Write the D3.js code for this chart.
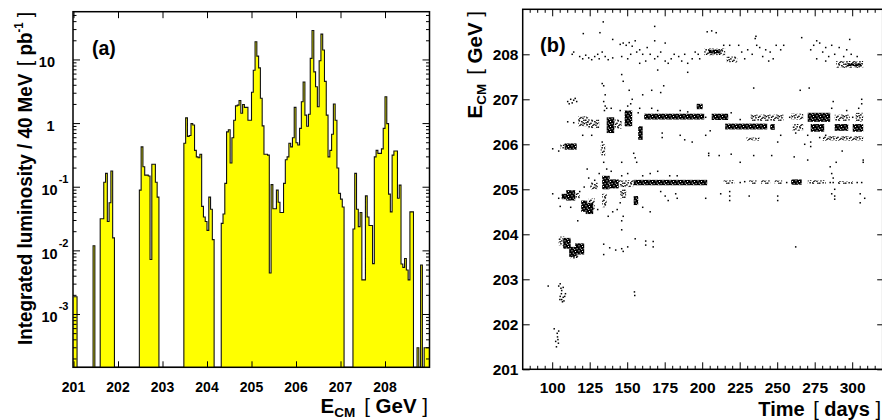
<!DOCTYPE html>
<html><head><meta charset="utf-8">
<script src="https://cdn.jsdelivr.net/npm/d3@7"></script>
<style>
body{margin:0;background:#fff;}
svg{display:block;font-family:"Liberation Sans",Arial,Helvetica,sans-serif;}
</style></head><body>
<svg id="c" width="882" height="420"></svg>
<script>
// ---------------- DATA ----------------
// (a) integrated luminosity per 40 MeV bin, bins start at 201.00 GeV
const binStart = 201.0, binWidth = 0.04;
const lumi = [
 0.0019,0.0019,0,0,0,0,0,0,0,0,
 0,0.012,0,0,0,0.032,0.032,0.12,0.165,0.029,
 0.057,0.18,0.016,0,0,0,0,0,0,0,
 0,0,0,0,0,0,0,0.09,0.43,0.21,
 0.155,0.155,0.15,0.0073,0.23,0.23,0.12,0.07,0,0,
 0,0,0,0,0,0,0,0,0,0,
 0,0,0.49,1.23,0.63,0.65,1.0,0.95,0.38,0.3,
 0.29,0.33,0.05,0.034,0.029,0.021,0.07,0.045,0.015,0,
 0,0,0,0.027,0.038,0.115,0.74,0.8,0.24,0.6,
 1.13,1.9,1.95,2.3,1.45,2.0,1.8,1.8,1.13,1.13,
 3.1,6.9,19.3,11.5,7.5,2.5,0.92,0.33,0.33,0.32,
 0.0045,0.11,0.046,0.046,0.09,0.058,0.04,0.04,0.115,0.27,
 0.3,0.49,0.43,0.6,1.8,0.5,0.46,0.84,2.2,4.5,
 1.36,0.91,1.4,10.6,29,6.5,3.8,1.84,9.7,25.5,
 14.3,4.6,1.36,0.3,0.38,0.68,2.03,1.13,0.2,0.08,
 0.065,0.049,0,0,0,0,0,0.022,0.165,0.045,
 0.024,0.04,0.0035,0.0035,0.073,0.034,0.025,0.025,0.0063,0.3,
 0.38,0.34,0.34,0.4,0.84,2.64,1.0,0.078,0.041,0.32,
 0.37,0.37,0.067,0.108,0.0062,0.0055,0.0076,0.005,0.0035,0.041,
 0.041,0,0,0.0003,0,0.006,0,0.0003,0.0003,0.0003
];
const ecmTicksA = [201,202,203,204,205,206,207,208];
const lumiDecades = [1,0,-1,-2,-3];

// (b) beam energy vs time
const timeTicks = [100,125,150,175,200,225,250,275,300];
const ecmTicksB = [201,202,203,204,205,206,207,208];
// dense groups of fills: [day0, day1, E0, E1, density]
const bands = [
 [104,108,203.75,203.95,'m'],[107,112,203.68,203.92,'d'],[111,116,203.5,203.72,'d'],
 [115,121,203.55,203.8,'d'],[112,117,203.45,203.55,'m'],
 [106,110,204.78,204.9,'d'],[109,115,204.75,204.98,'d'],[114,118,204.8,204.92,'m'],
 [119,123,204.5,204.75,'d'],[122,127,204.45,204.7,'d'],[124,128,204.55,204.8,'m'],
 [125,130,205.0,205.15,'m'],[133,138,205.0,205.3,'d'],[138,144,205.02,205.22,'d'],
 [144,154,205.05,205.2,'m'],[154,203,205.09,205.21,'d'],
 [133,136,204.6,204.9,'m'],[145,149,204.8,205.0,'m'],[154,157,204.65,204.85,'d'],
 [105,109,205.9,206.0,'m'],[108,116,205.88,206.02,'d'],[132,135,205.75,206.0,'m'],
 [117,124,206.4,206.62,'m'],[123,131,206.36,206.55,'m'],[136,141,206.25,206.6,'d'],
 [141,146,206.35,206.55,'m'],[148,153,206.4,206.75,'d'],[157,160,206.1,206.4,'d'],
 [161,201,206.55,206.68,'d'],[196,200,206.78,206.9,'d'],[206,217,206.54,206.68,'d'],
 [232,254,206.52,206.66,'m'],[259,267,206.55,206.68,'m'],[270,285,206.5,206.7,'d'],
 [288,298,206.52,206.66,'m'],[302,307,206.5,206.7,'m'],[215,243,206.33,206.46,'d'],
 [245,248,206.32,206.45,'d'],[260,267,206.3,206.45,'m'],[272,281,206.28,206.45,'d'],
 [288,297,206.3,206.45,'d'],[300,307,206.28,206.45,'d'],[229,238,206.08,206.15,'m'],
 [280,307,206.08,206.18,'m'],
 [201,215,207.98,208.13,'m'],[204,212,208.02,208.1,'d'],[216,223,207.82,207.95,'m'],
 [289,307,207.7,207.85,'m'],[296,306,207.74,207.8,'d'],
 [214,221,205.12,205.2,'m'],[231,236,205.12,205.2,'m'],[239,245,205.12,205.2,'m'],
 [248,253,205.12,205.2,'m'],[259,266,205.1,205.22,'d'],[270,282,205.12,205.2,'m'],
 [290,300,205.12,205.18,'m']
];
// isolated fills: [day, E]
const fills = [
 [101,201.9],[102,201.62],[102.5,201.5],[103,201.8],[103.2,201.72],[103.5,201.66],[104,201.85],[103.8,201.58],
 [97,202.85],[104,202.85],[105,202.9],[105.5,202.8],[106,202.75],[107,202.82],[105,202.62],[106,202.55],
 [106.5,202.5],[107,202.6],[107.5,202.52],[108,202.62],[108.5,202.68],[105.8,202.68],[104.8,202.55],
 [154.5,202.72],[154.7,202.64],
 [116.7,204.3],[134,203.78],[134,203.55],[138,203.7],[142,203.65],[146,204.1],[146,203.68],[147,203.62],
 [150,203.72],[155,203.9],[162,203.85],[162,203.76],[167,203.84],[167,203.72],[262,203.72],[147,204.4],[146,204.3],
 [100,204.9],[104,204.8],[105,204.62],[112,204.6],[118,204.95],[130,204.55],[137,204.4],[140,204.5],
 [143,204.55],[145,204.7],[160,204.6],[165,204.5],[121,205.05],[123,205.45],[131,205.35],[139,205.4],
 [146,205.3],[150,205.35],[160,205.3],[165,205.35],[170,205.4],[178,205.3],[183,205.3],[124,205.25],[128,205.2],
 [100,205.9],[104,205.85],[133,206.05],[134,205.6],[136,205.45],[146,205.6],[154,205.8],[155,205.7],
 [156,205.6],[120,206.2],[126,206.2],[110,206.5],[114,206.48],[139,206.8],[145,206.75],[150,206.85],
 [152,206.9],[157,206.7],[158,206.8],
 [110,206.95],[111,206.9],[112,207.0],[113,206.92],[114,206.98],[115,207.02],[116,206.95],[134,206.95],
 [135,206.85],[134.5,206.75],[136,206.8],[135,207.1],[133,207.35],[134,207.3],[146,207.55],[147,207.4],
 [151,207.2],[153,207.0],[166,207.2],[160,207.1],
 [114,208.05],[113,208.0],[120.4,208.46],[131.5,208.48],[133.7,208.72],[140,208.33],[145,208.22],[147,208.25],
 [149,208.2],[151,208.26],[153,208.18],[155,208.3],[118,207.95],[120,207.9],[122,207.98],[124,207.92],
 [126,207.88],[128,207.95],[130,208.0],[131,207.9],[133,208.05],[135,207.95],[137,207.88],[140,207.92],
 [146,207.95],[150,207.9],[152,208.0],[156,208.05],[158,208.1],[160,208.0],[163,208.15],[162,207.85],[158,207.8],
 [165,208.0],[168,207.9],[170,207.95],[172,208.05],[175,207.85],[177,207.8],[179,207.9],[181,208.0],
 [184,207.95],[186,207.85],[188,208.0],[190,207.8],[193,207.9],[195,208.05],[197,208.0],[175,208.25],
 [168,208.3],[170,207.65],[190,207.6],[198,207.9],[168,208.62],[203,208.5],[206,208.52],[209,208.48],
 [235.5,208.4],[235,208.35],[266,208.37],[298,208.33],[224,208.2],[226,208.05],[230,208.1],[233,208.0],
 [236,208.2],[238,208.15],[240,207.95],[242,208.1],[245,208.05],[247,207.9],[249,208.2],[252,208.1],
 [254,208.2],[228,207.9],[244,207.85],[272,208.1],[274,208.2],[276,208.3],[278,208.25],[280,208.05],
 [282,208.15],[284,207.95],[286,208.2],[288,208.0],[291,208.15],[294,207.95],[296,208.1],[299,208.0],
 [303,207.95],[276,207.9],[282,207.85],[218,208.2],[214,208.2],[174,207.3],[172,207.15],[234,207.25],
 [265,207.2],[271,207.25],[306,207.0],[306,206.9],[287,206.95],
 [166,206.8],[170,206.75],[185,206.75],[190,206.72],[202,206.6],[219,206.7],[225,206.55],[258,206.6],
 [286,206.8],[296,206.75],[300,206.6],[304,206.8],[173,206.25],[173,206.15],[185,206.2],[188,206.1],
 [193,206.05],[202,206.2],[205,206.3],[250,206.05],[252,206.2],[278,206.15],[282,206.2],[262,206.25],
 [268,206.0],[272,206.05],[272,205.95],[270,206.2],
 [204,205.8],[204,205.75],[211,205.75],[219,205.78],[225,205.6],[234,205.75],[246,205.75],[261,205.72],
 [270,205.65],[307,205.65],[307,205.6],[293,205.85],
 [285,205.5],[286,205.35],[287,205.15],[288,205.0],[286,204.9],[288,204.85],[289,205.6],[287,205.25],
 [172,204.95],[175,204.85],[177,204.75],[182,204.9],[183,204.8],[202,204.8],[212,204.9],[218,204.95],
 [218,204.85],[218,204.75],[231,204.85],[250,204.85],[250,204.75],[288,204.78],[305,204.9],[308,204.8],
 [305,204.7],[225,205.15],[228,205.17],[256,205.15],[285,205.15],[303,205.15],[306,205.15]
];

// ---------------- DRAWING ----------------
const svg = d3.select('#c');
const defs = svg.append('defs');

// panel (a) geometry
const A = {l:73, r:429.5, t:11.7, b:367.3};
const xa = d3.scaleLinear().domain([201,209]).range([73.5,429.5]);
const ya = d3.scaleLog().domain([1.48e-4,57.3]).range([A.b,A.t]);

defs.append('clipPath').attr('id','clipA').append('rect')
  .attr('x',A.l).attr('y',A.t).attr('width',A.r-A.l).attr('height',A.b-A.t);

const histData = lumi.map((v,i)=>({e:binStart+i*binWidth, v}));
histData.push({e:binStart+lumi.length*binWidth, v:0});
const yv = d=> d.v>0 ? ya(d.v) : A.b;
const gA = svg.append('g').attr('clip-path','url(#clipA)');
gA.append('path').datum(histData)
  .attr('d', d3.area().x(d=>xa(d.e)).y0(A.b).y1(yv).curve(d3.curveStepAfter))
  .attr('fill','#ffff00');
gA.append('path').datum(histData)
  .attr('d', d3.line().x(d=>xa(d.e)).y(yv).curve(d3.curveStepAfter))
  .attr('fill','none').attr('stroke','#111').attr('stroke-width',1.1);

// frame a
svg.append('rect').attr('x',A.l).attr('y',A.t).attr('width',A.r-A.l).attr('height',A.b-A.t)
  .attr('fill','none').attr('stroke','#000').attr('stroke-width',1.5);

// x ticks a (bottom & top, inward)
svg.append('g').attr('transform',`translate(0,${A.b})`)
  .call(d3.axisBottom(xa).tickValues(ecmTicksA).tickSize(-6).tickFormat(''))
  .call(g=>g.select('.domain').remove());
svg.append('g').attr('transform',`translate(0,${A.t})`)
  .call(d3.axisTop(xa).tickValues(ecmTicksA).tickSize(-6.5).tickFormat(''))
  .call(g=>g.select('.domain').remove());
// y ticks a (log, majors and minors, left & right)
const logTicks = [];
for (let e=-4;e<=1;e++) for (let k=1;k<=9;k++){ const v=k*Math.pow(10,e); if(v>=1.48e-4 && v<=57.3) logTicks.push(v); }
const majorLog = v => Math.abs(Math.log10(v)-Math.round(Math.log10(v)))<1e-9;
svg.append('g').selectAll('line').data(logTicks).join('line')
  .attr('x1',A.l).attr('x2',d=>A.l+(majorLog(d)?7:3.5))
  .attr('y1',d=>ya(d)).attr('y2',d=>ya(d)).attr('stroke','#000').attr('stroke-width',1);
svg.append('g').selectAll('line').data(logTicks).join('line')
  .attr('x1',A.r).attr('x2',d=>A.r-(majorLog(d)?7:3.5))
  .attr('y1',d=>ya(d)).attr('y2',d=>ya(d)).attr('stroke','#000').attr('stroke-width',1);

// tick labels a
svg.append('g').selectAll('text').data(ecmTicksA).join('text')
  .attr('x',d=>xa(d)).attr('y',391.5).attr('text-anchor','middle')
  .attr('font-size',14).attr('font-weight','bold').text(d=>d);
const ylab = svg.append('g').attr('font-weight','bold');
lumiDecades.forEach(e=>{
  const yy = ya(Math.pow(10,e));
  if (e===1){ ylab.append('text').attr('x',55).attr('y',yy+7).attr('text-anchor','end').attr('font-size',14.5).text('10'); }
  else if (e===0){ ylab.append('text').attr('x',54.5).attr('y',yy+7).attr('text-anchor','end').attr('font-size',14.5).text('1'); }
  else {
    const t = ylab.append('text').attr('x',41.5).attr('y',yy+8).attr('font-size',14.5);
    t.append('tspan').text('10');
    t.append('tspan').attr('font-size',11).attr('dy',-12).attr('dx',1).text(String(e));
  }
});

// panel label (a)
svg.append('text').attr('x',92).attr('y',55).attr('font-size',19.5).attr('font-weight','bold').text('(a)');

function fit(textSel, len){
  textSel.attr('textLength',len).attr('lengthAdjust','spacingAndGlyphs');
}

// x title a
{
  const t = svg.append('text').attr('x',428).attr('y',412.5).attr('text-anchor','end').attr('font-size',20.5);
  t.append('tspan').attr('font-weight','bold').text('E');
  t.append('tspan').attr('font-weight','bold').attr('font-size',13.5).attr('dy',4.5).text('CM');
  t.append('tspan').attr('dy',-4.5).attr('dx',9).text('[ ');
  t.append('tspan').attr('font-weight','bold').text('GeV');
  t.append('tspan').text(' ]');
}
// y title a
{
  const g = svg.append('g').attr('transform','translate(31.5,178.5) rotate(-90)');
  const t = g.append('text').attr('x',0).attr('y',0).attr('text-anchor','middle').attr('font-size',20);
  t.append('tspan').attr('font-weight','bold').text('Integrated luminosity / 40 MeV');
  t.append('tspan').attr('dx',8).text('[ ');
  t.append('tspan').attr('font-weight','bold').text('pb');
  t.append('tspan').attr('font-weight','bold').attr('font-size',12).attr('dy',-9).text('-1');
  t.append('tspan').attr('dy',9).text(' ]');
  fit(t, 333);
}

// ---------------- panel (b) ----------------
const B = {l:522.7, r:882.7, t:9.3, b:369.3};
const xb = d3.scaleLinear().domain([80,320]).range([B.l,B.r]);
const yb = d3.scaleLinear().domain([201,209]).range([B.b,B.t]);

defs.append('clipPath').attr('id','clipB').append('rect')
  .attr('x',B.l).attr('y',B.t).attr('width',B.r-B.l).attr('height',B.b-B.t);

// dot textures for dense groups of fills
const pd = defs.append('pattern').attr('id','pat-d').attr('patternUnits','userSpaceOnUse').attr('width',7).attr('height',5);
pd.append('rect').attr('width',7).attr('height',5).attr('fill','#000');
[[1,1],[4.5,0.3],[2.6,3.2],[5.8,2.6],[0.2,3.9]].forEach(p=>pd.append('rect').attr('x',p[0]).attr('y',p[1]).attr('width',1).attr('height',1).attr('fill','#fff'));
const pm = defs.append('pattern').attr('id','pat-m').attr('patternUnits','userSpaceOnUse').attr('width',13).attr('height',7);
[[0,0.5],[2.1,2.2],[3.4,0.1],[5.2,3.6],[6.6,1.2],[8.3,4.8],[9.1,2.0],[11.2,0.6],[12,3.9],
 [1.2,5.1],[3.9,4.6],[7.2,5.9],[10.2,5.5],[0.4,3.1],[6.0,0.2],[10.4,3.2]]
 .forEach(p=>pm.append('rect').attr('x',p[0]).attr('y',p[1]).attr('width',1.5).attr('height',1.4).attr('fill','#000'));

const gB = svg.append('g').attr('clip-path','url(#clipB)');
gB.selectAll('rect.band').data(bands).join('rect').attr('class','band')
  .attr('x',d=>xb(d[0])).attr('width',d=>xb(d[1])-xb(d[0]))
  .attr('y',d=>yb(d[3])).attr('height',d=>yb(d[2])-yb(d[3]))
  .attr('fill',d=>d[4]==='d'?'url(#pat-d)':'url(#pat-m)');
gB.selectAll('rect.pt').data(fills).join('rect').attr('class','pt')
  .attr('x',d=>xb(d[0])-0.75).attr('y',d=>yb(d[1])-0.75).attr('width',1.5).attr('height',1.5).attr('fill','#000');

// frame b
svg.append('rect').attr('x',B.l).attr('y',B.t).attr('width',B.r-B.l).attr('height',B.b-B.t)
  .attr('fill','none').attr('stroke','#000').attr('stroke-width',1.5);

// ticks b
const minorT = d3.range(85,320,5);
const majorT = new Set(timeTicks);
svg.append('g').selectAll('line').data(minorT).join('line')
  .attr('x1',d=>xb(d)).attr('x2',d=>xb(d)).attr('y1',B.b).attr('y2',d=>B.b-(majorT.has(d)?7:3.5))
  .attr('stroke','#000');
svg.append('g').selectAll('line').data(minorT).join('line')
  .attr('x1',d=>xb(d)).attr('x2',d=>xb(d)).attr('y1',B.t).attr('y2',d=>B.t+(majorT.has(d)?7:3.5))
  .attr('stroke','#000');
svg.append('g').attr('transform',`translate(${B.l},0)`)
  .call(d3.axisLeft(yb).tickValues(ecmTicksB).tickSize(-7).tickFormat(''))
  .call(g=>g.select('.domain').remove());
svg.append('g').attr('transform',`translate(${B.r},0)`)
  .call(d3.axisRight(yb).tickValues(ecmTicksB).tickSize(-5.5).tickFormat(''))
  .call(g=>g.select('.domain').remove());

// tick labels b
svg.append('g').selectAll('text').data(timeTicks).join('text')
  .attr('x',d=>xb(d)).attr('y',393.3).attr('text-anchor','middle')
  .attr('font-size',15.5).attr('font-weight','bold').text(d=>d);
svg.append('g').selectAll('text').data(ecmTicksB).join('text')
  .attr('x',518.5).attr('y',d=>yb(d)+6).attr('text-anchor','end')
  .attr('font-size',15.5).attr('font-weight','bold').text(d=>d);

svg.append('text').attr('x',540).attr('y',52).attr('font-size',20).attr('font-weight','bold').text('(b)');

// x title b
{
  const t = svg.append('text').attr('x',881).attr('y',416).attr('text-anchor','end').attr('font-size',20);
  t.append('tspan').attr('font-weight','bold').text('Time');
  t.append('tspan').attr('dx',3).text(' [ ');
  t.append('tspan').attr('font-weight','bold').text('days');
  t.append('tspan').text(' ]');
}
// y title b
{
  const g = svg.append('g').attr('transform','translate(481.5,118.5) rotate(-90)');
  const t = g.append('text').attr('x',0).attr('y',0).attr('text-anchor','start').attr('font-size',20.5);
  t.append('tspan').attr('font-weight','bold').text('E');
  t.append('tspan').attr('font-weight','bold').attr('font-size',13.5).attr('dy',4.5).text('CM');
  t.append('tspan').attr('dy',-4.5).attr('dx',9).text('[ ');
  t.append('tspan').attr('font-weight','bold').text('GeV');
  t.append('tspan').text(' ]');
}
</script>
</body></html>
